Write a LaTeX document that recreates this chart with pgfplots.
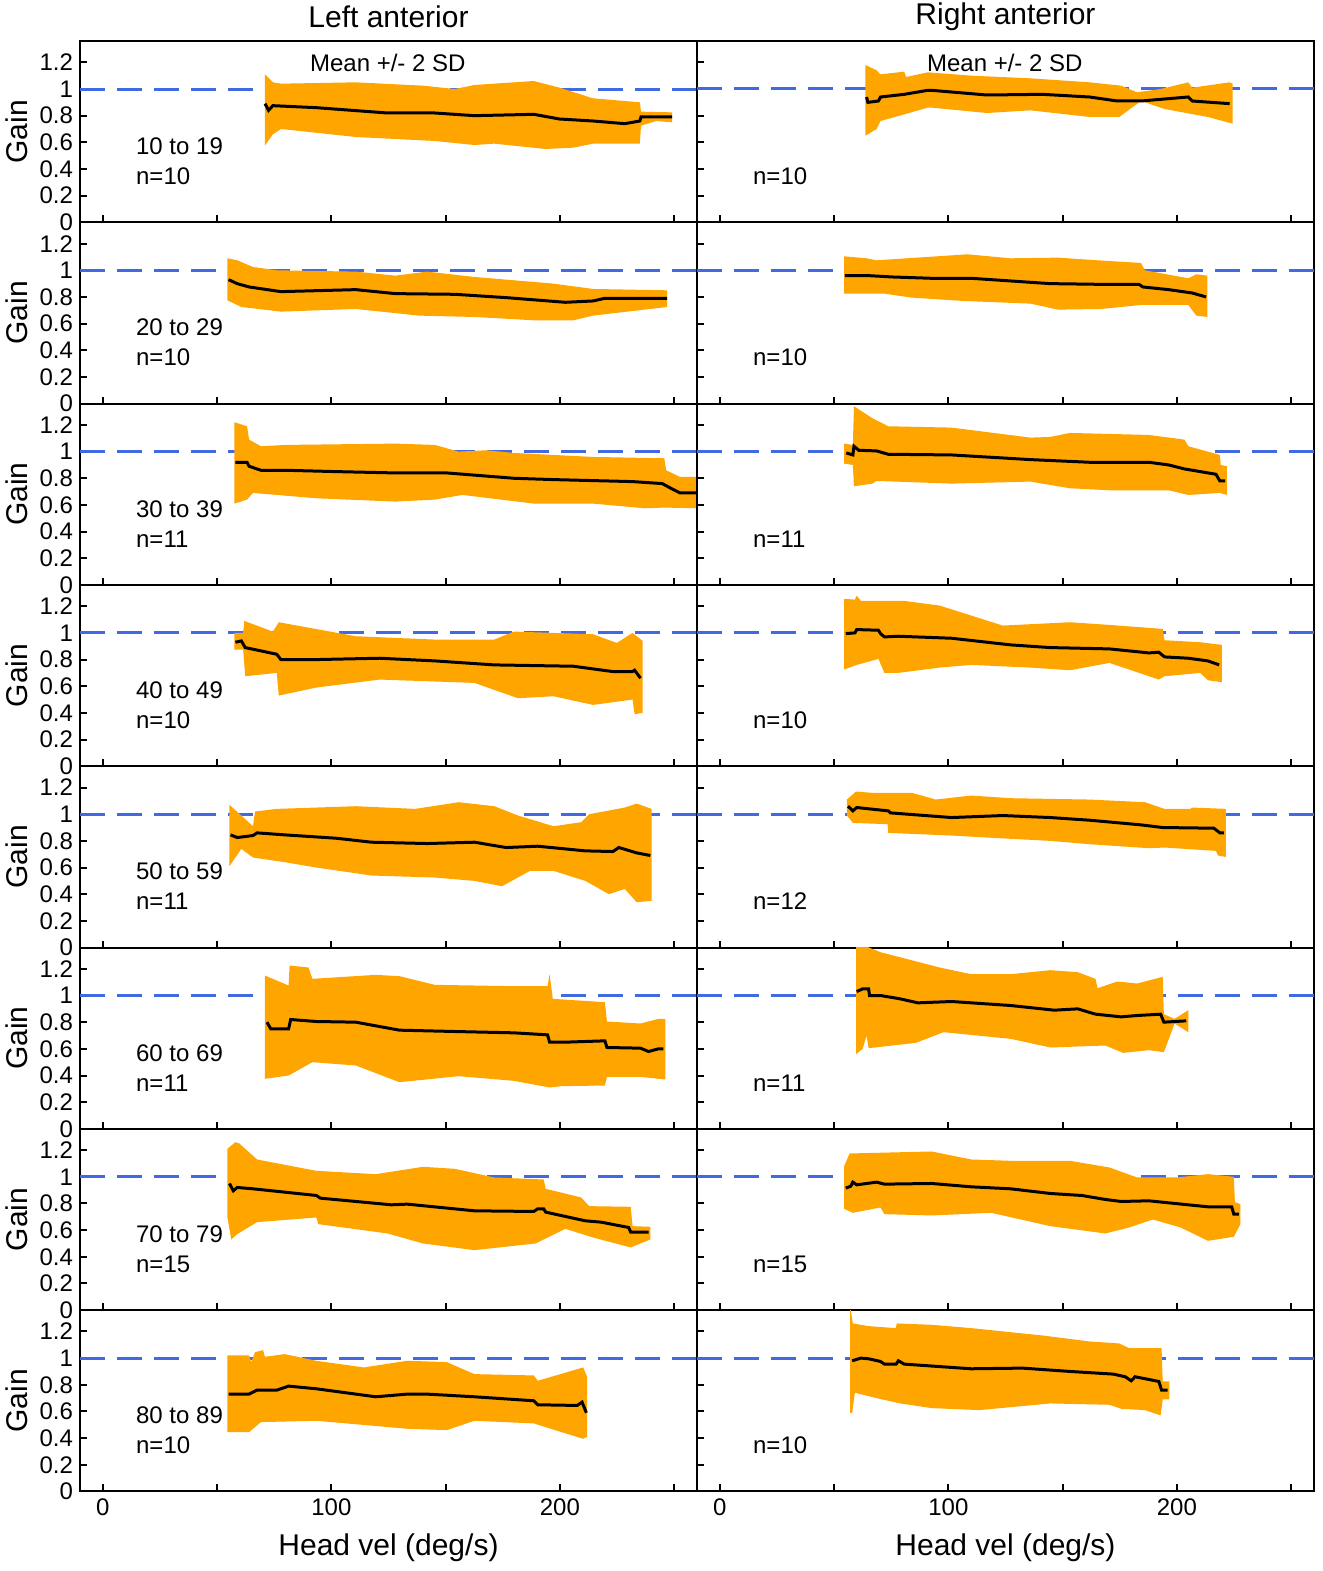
\documentclass[border=0pt]{standalone}
\usepackage{fontspec}
\setmainfont{Liberation Sans}
\usepackage{pgfplots}
\pgfplotsset{compat=1.18}
\usepgfplotslibrary{groupplots}
\definecolor{gorange}{RGB}{255,165,0}
\definecolor{gblue}{RGB}{65,105,225}
\newcommand\band[1]{\addplot[fill=gorange,draw=none] coordinates {#1};}
\newcommand\mline[1]{\addplot[black,line width=1.5pt] coordinates {#1};}
\newcommand\refline{\addplot[gblue,line width=1.5pt,dash pattern=on 12.5pt off 6pt] coordinates {(-10,1)(260,1)};}
\newcommand\labA[1]{\node[anchor=west,inner sep=0pt,font=\fontsize{12}{14}\selectfont] at (axis cs:14.4,0.57) {#1};}
\newcommand\labB[1]{\node[anchor=west,inner sep=0pt,font=\fontsize{12}{14}\selectfont] at (axis cs:14.4,0.345) {#1};}
\newcommand\msd{\node[anchor=center,inner sep=0pt,font=\fontsize{12}{14}\selectfont] at (axis cs:124.7,1.195) {Mean +/- 2 SD};}
\newcommand\ttl[1]{\node[anchor=center,inner sep=0pt,font=\fontsize{15}{18}\selectfont] at (axis description cs:0.5,1.135) {#1};}
\begin{document}
\begin{tikzpicture}
\begin{groupplot}[
  group style={group size=2 by 8, horizontal sep=0pt, vertical sep=0pt,
    xticklabels at=edge bottom, yticklabels at=edge left},
  scale only axis, width=308.5pt, height=90.65pt,
  xmin=-10, xmax=260, ymin=0, ymax=1.36,
  xtick={0,100,200}, minor xtick={50,150,250},
  ytick={0,0.2,0.4,0.6,0.8,1,1.2},
  tick align=inside, tick pos=left,
  major tick length=3.5pt, minor tick length=3.5pt,
  axis line style={line width=1pt},
  tick style={black,line width=1pt},
  tick label style={font=\fontsize{12}{14}\selectfont},
  /pgf/number format/assume math mode=true,
  clip mode=individual,
  every axis y label/.style={at={(axis description cs:-0.102,0.5)}, rotate=90, anchor=center, font=\fontsize{15}{18}\selectfont},
  every axis x label/.style={at={(axis description cs:0.5,-0.309)}, anchor=center, font=\fontsize{15}{18}\selectfont},
]
% ---------- row 1
\nextgroupplot[ylabel={Gain}]
\coordinate (TL) at (rel axis cs:0,1);
\refline
\band{(70.9,1.11)(74.4,1.05)(78,1.04)(110.7,1.05)(140.1,1.025)(154,1.0)(162.6,1.03)(188.6,1.06)(199.8,1.01)(214.5,0.93)(228.4,0.91)(235,0.90)(235.5,0.83)(249.1,0.825)(249.1,0.75)(242.2,0.76)(235.5,0.725)(235,0.59)(214.5,0.59)(205.9,0.56)(193.8,0.55)(171.3,0.59)(162.6,0.58)(145.3,0.61)(110.7,0.64)(78,0.70)(74.4,0.66)(70.9,0.575)}
\mline{(71,0.89)(72.5,0.84)(74.4,0.875)(93.4,0.86)(124.6,0.82)(145.3,0.82)(162.6,0.80)(188.6,0.81)(199.8,0.775)(214.5,0.76)(228.4,0.74)(235,0.76)(235.5,0.79)(249.1,0.79)}
\msd \labA{10 to 19} \labB{n=10} \ttl{Left anterior}
\nextgroupplot
\refline
\band{(63.7,1.18)(68.6,1.14)(70.3,1.11)(80.7,1.13)(81.5,1.09)(91,1.125)(110,1.10)(135.9,1.08)(161.8,1.05)(175.6,1.025)(182.6,0.975)(192.9,1.0)(205,1.05)(206.7,1.01)(223.1,1.05)(224.4,1.04)(224.4,0.74)(213.6,0.79)(194.6,0.85)(184.3,0.91)(174.8,0.79)(161.8,0.79)(135.9,0.84)(116.9,0.82)(92.7,0.86)(91,0.86)(80.7,0.81)(70.3,0.76)(68.6,0.70)(63.7,0.65)}
\mline{(64.2,0.94)(64.8,0.90)(69.4,0.91)(70.3,0.94)(80.7,0.96)(91,0.99)(92.7,0.99)(116.9,0.955)(141.1,0.96)(161.8,0.94)(173.9,0.91)(184.3,0.91)(194.6,0.925)(205,0.94)(206.7,0.91)(223.1,0.89)}
\msd \labB{n=10} \ttl{Right anterior}
% ---------- row 2
\nextgroupplot[ylabel={Gain}]
\refline
\band{(54.5,1.09)(58.8,1.075)(65.7,1.025)(76.1,1.0)(110.7,0.99)(128,0.96)(141.9,0.99)(162.6,0.95)(197.2,0.90)(214.5,0.86)(246.9,0.85)(246.9,0.725)(214.5,0.66)(205.9,0.625)(188.6,0.625)(162.6,0.65)(138.4,0.66)(110.7,0.71)(77.9,0.69)(60.6,0.725)(54.5,0.775)}
\mline{(55,0.93)(58.8,0.90)(64,0.875)(77.9,0.84)(110.7,0.855)(128,0.825)(154,0.82)(176.5,0.795)(202.4,0.76)(214.5,0.77)(219.7,0.79)(246.9,0.79)}
\labA{20 to 29} \labB{n=10}
\nextgroupplot
\refline
\band{(54.4,1.105)(64.2,1.09)(68.6,1.075)(108.3,1.12)(127.3,1.09)(148,1.095)(165.3,1.075)(184.3,1.055)(186,1.0)(205,0.94)(208.5,0.97)(213.3,0.96)(213.3,0.65)(208.5,0.66)(205,0.74)(184.3,0.74)(167,0.71)(148,0.705)(135.9,0.75)(106.6,0.77)(84.1,0.795)(72,0.825)(54.4,0.825)}
\mline{(54.7,0.96)(65.1,0.96)(75.5,0.95)(92.7,0.94)(110,0.94)(127.3,0.92)(144.6,0.90)(165.3,0.895)(183.4,0.895)(185.1,0.875)(196.4,0.855)(206.7,0.83)(212.8,0.80)}
\labB{n=10}
% ---------- row 3
\nextgroupplot[ylabel={Gain}]
\refline
\band{(57.6,1.22)(63.1,1.19)(64,1.09)(69.2,1.04)(79.6,1.05)(128,1.06)(145.3,1.05)(155.7,1.0)(167.8,1.01)(179.9,0.99)(214.5,0.96)(245.7,0.95)(246.5,0.86)(252.6,0.81)(259.5,0.81)(259.5,0.575)(245.7,0.58)(237,0.575)(214.5,0.61)(188.6,0.61)(157.4,0.675)(145.3,0.64)(128,0.625)(93.4,0.65)(65.7,0.69)(63.1,0.64)(57.6,0.61)}
\mline{(58,0.92)(63.1,0.92)(64,0.89)(69.2,0.86)(79.6,0.86)(102,0.85)(128,0.84)(150.5,0.84)(179.9,0.80)(197.2,0.79)(231.8,0.775)(244.8,0.76)(249.1,0.72)(252.6,0.69)(259.5,0.69)}
\labA{30 to 39} \labB{n=11}
\nextgroupplot
\refline
\band{(54.4,1.06)(58.2,1.05)(58.7,1.34)(66.8,1.25)(73.7,1.19)(101.4,1.18)(135.9,1.105)(144.6,1.11)(153.2,1.14)(187.7,1.125)(203.3,1.09)(205,1.04)(218.8,0.975)(219.2,0.90)(221.9,0.89)(221.9,0.675)(218.8,0.69)(205,0.675)(196.4,0.71)(170.5,0.71)(153.2,0.725)(135.9,0.775)(101.4,0.76)(68.6,0.78)(66.8,0.76)(58.7,0.74)(58.2,0.90)(54.4,0.91)}
\mline{(55.3,0.99)(58.2,0.975)(58.7,1.04)(60.8,1.01)(68.6,1.005)(73.7,0.98)(101.4,0.975)(135.9,0.94)(161.8,0.92)(187.7,0.92)(196.4,0.90)(203.3,0.87)(217.1,0.83)(218.8,0.78)(221.1,0.78)}
\labB{n=11}
% ---------- row 4
\nextgroupplot[ylabel={Gain}]
\refline
\band{(57.6,1.0)(61.4,1.0)(61.9,1.09)(74.4,1.01)(77,1.08)(110.7,0.975)(145.3,0.95)(171.3,0.95)(179.9,1.01)(197.2,1.0)(214.5,0.99)(224.9,0.925)(231.8,1.0)(236.2,0.94)(236.2,0.40)(232.7,0.39)(231.8,0.50)(214.5,0.46)(197.2,0.525)(181.7,0.51)(162.6,0.625)(121.1,0.65)(93.4,0.59)(77,0.53)(76.1,0.70)(62.3,0.675)(61.4,0.875)(57.6,0.875)}
\mline{(58,0.93)(60.6,0.94)(62.3,0.89)(76.1,0.84)(77.9,0.80)(93.4,0.80)(121.1,0.81)(145.3,0.79)(171.3,0.76)(205.9,0.75)(214.5,0.73)(223.2,0.71)(231.8,0.71)(232.7,0.72)(235.3,0.66)}
\labA{40 to 49} \labB{n=10}
\nextgroupplot
\refline
\band{(54.4,1.255)(59.1,1.25)(59.9,1.28)(61.7,1.24)(80.7,1.24)(96.2,1.205)(123.8,1.055)(153.2,1.08)(170.5,1.06)(193.8,1.03)(194.6,0.945)(210.2,0.93)(219.7,0.91)(219.7,0.63)(213.6,0.645)(210.2,0.70)(194.6,0.675)(192.1,0.65)(170.5,0.775)(153.2,0.72)(135.9,0.74)(110,0.76)(96.2,0.74)(78.1,0.70)(72,0.70)(69.4,0.805)(59.9,0.76)(54.4,0.725)}
\mline{(55.1,0.995)(59.1,1.0)(59.9,1.025)(69.4,1.02)(70.3,0.995)(72,0.97)(78.1,0.975)(101.4,0.96)(127.3,0.91)(144.6,0.89)(170.5,0.88)(187.7,0.85)(192.1,0.855)(194.6,0.82)(205,0.81)(213.6,0.79)(218.5,0.76)}
\labB{n=10}
% ---------- row 5
\nextgroupplot[ylabel={Gain}]
\refline
\band{(55.4,1.07)(60.6,0.99)(65.7,0.91)(66.6,1.02)(76.1,1.04)(110.7,1.06)(136.7,1.04)(155.7,1.09)(171.3,1.06)(181.7,0.99)(197.2,0.91)(209.3,0.94)(212.8,1.0)(228.4,1.05)(233.6,1.08)(240.1,1.04)(240.1,0.35)(233.6,0.34)(228.4,0.44)(221.5,0.40)(211.1,0.50)(197.2,0.575)(186.9,0.575)(174.7,0.46)(162.6,0.50)(145.3,0.525)(117.6,0.54)(93.4,0.60)(79.6,0.64)(65.7,0.675)(60.6,0.74)(55.4,0.61)}
\mline{(55.9,0.845)(58.8,0.825)(65.7,0.84)(67.5,0.86)(79.6,0.845)(102,0.82)(117.6,0.79)(141.9,0.78)(162.6,0.79)(176.5,0.75)(190.3,0.76)(211.1,0.725)(223.2,0.72)(225.8,0.75)(233.6,0.71)(239.6,0.69)}
\labA{50 to 59} \labB{n=11}
\nextgroupplot
\refline
\band{(55.6,1.11)(59.6,1.17)(66.8,1.16)(84.1,1.16)(94.5,1.11)(110,1.14)(127.3,1.12)(161.8,1.11)(186,1.09)(194.6,1.04)(205.9,1.04)(206.7,1.05)(221.4,1.04)(221.4,0.68)(218,0.69)(217.1,0.725)(194.6,0.75)(187.7,0.745)(161.8,0.775)(144.6,0.80)(116.9,0.825)(101.4,0.84)(73.7,0.86)(73.4,0.925)(58.2,0.935)(55.6,0.99)}
\mline{(56.1,1.06)(58.2,1.025)(59.9,1.05)(73.7,1.025)(74.6,1.01)(101.4,0.975)(123.8,0.99)(144.6,0.975)(161.8,0.955)(184.3,0.92)(193.8,0.90)(216.2,0.895)(218.8,0.86)(220.6,0.86)}
\labB{n=12}
% ---------- row 6
\nextgroupplot[ylabel={Gain}]
\refline
\band{(70.9,1.15)(81.3,1.075)(81.7,1.225)(90,1.21)(91.7,1.125)(119.4,1.155)(129.8,1.145)(145.3,1.08)(179.9,1.07)(194.6,1.07)(195.5,1.16)(196.9,0.975)(219.7,0.95)(220.6,0.805)(235.3,0.79)(243.1,0.825)(246.2,0.825)(246.2,0.37)(235.3,0.39)(220.6,0.39)(219.7,0.325)(200.7,0.32)(195.5,0.31)(179.9,0.36)(155.7,0.395)(129.8,0.35)(110.7,0.475)(91.7,0.50)(81.3,0.40)(70.9,0.375)}
\mline{(71.8,0.80)(73.5,0.75)(81.3,0.75)(82.2,0.82)(93.4,0.805)(110.7,0.80)(129.8,0.74)(154,0.73)(179.9,0.72)(194.6,0.705)(195.5,0.65)(202.4,0.65)(219.7,0.66)(220.6,0.61)(235.3,0.605)(238.8,0.58)(243.1,0.60)(245.3,0.60)}
\labA{60 to 69} \labB{n=11}
\nextgroupplot
\refline
\band{(59.6,1.40)(70.3,1.325)(96.2,1.21)(110,1.16)(127.3,1.16)(144.6,1.19)(156.6,1.175)(164.4,1.125)(165.3,1.055)(173.9,1.105)(182.6,1.09)(193.8,1.14)(194.3,0.86)(199,0.825)(205,0.89)(205,0.725)(199,0.79)(194.3,0.575)(187.7,0.59)(176.5,0.57)(168.7,0.625)(144.6,0.61)(127.3,0.675)(97.9,0.725)(85.8,0.645)(65.1,0.605)(64.2,0.70)(62.5,0.60)(59.6,0.56)}
\mline{(59.9,1.03)(62.5,1.05)(65.1,1.05)(65.5,1.0)(70.3,1.0)(78.9,0.975)(86.7,0.945)(101.4,0.955)(127.3,0.925)(146.3,0.89)(156.6,0.90)(164.4,0.86)(175.6,0.84)(182.6,0.85)(192.9,0.86)(194.3,0.80)(204.1,0.81)}
\labB{n=11}
% ---------- row 7
\nextgroupplot[ylabel={Gain}]
\refline
\band{(54.5,1.21)(58,1.26)(59.7,1.25)(67.5,1.13)(93.4,1.045)(119.4,1.02)(140.1,1.075)(154,1.06)(171.3,0.995)(192.9,0.98)(193.8,0.91)(209.3,0.845)(212.8,0.78)(231,0.775)(231.8,0.63)(239.6,0.625)(239.6,0.53)(231,0.47)(214.5,0.545)(202.4,0.61)(189.4,0.50)(162.6,0.45)(140.1,0.50)(124.6,0.575)(94.3,0.645)(93.4,0.695)(67.5,0.66)(58.8,0.57)(56.2,0.53)(54.5,0.695)}
\mline{(55.4,0.95)(57.1,0.895)(58.8,0.92)(65.7,0.91)(93.4,0.86)(95.2,0.84)(126.3,0.79)(133.2,0.795)(162.6,0.745)(188.6,0.74)(190.3,0.76)(192.9,0.76)(193.8,0.735)(211.1,0.67)(218,0.66)(230.1,0.62)(231,0.585)(238.8,0.585)}
\labA{70 to 79} \labB{n=15}
\nextgroupplot
\refline
\band{(54.4,1.08)(56.8,1.175)(68.6,1.18)(92.7,1.19)(110,1.13)(127.3,1.12)(153.2,1.12)(170.5,1.07)(182.6,0.995)(199.8,0.995)(213.6,1.02)(224.9,1.0)(225.4,0.81)(227.8,0.795)(227.8,0.645)(224.9,0.55)(213.6,0.52)(201.6,0.62)(189.5,0.68)(179.1,0.62)(168.7,0.575)(144.6,0.63)(118.7,0.73)(92.7,0.71)(72,0.72)(70.3,0.77)(58.2,0.73)(54.4,0.76)}
\mline{(55.1,0.915)(57.3,0.93)(58.2,0.96)(59.9,0.94)(68.6,0.96)(72,0.945)(92.7,0.95)(110,0.925)(127.3,0.91)(144.6,0.875)(158.4,0.86)(168.7,0.83)(175.6,0.815)(187.7,0.82)(213.6,0.775)(224,0.775)(224.9,0.72)(227.1,0.72)}
\labB{n=15}
% ---------- row 8
\nextgroupplot[ylabel={Gain}, xlabel={Head vel (deg/s)}]
\refline
\band{(54.5,1.02)(64,1.02)(64.9,0.97)(66.6,1.045)(70.1,1.06)(70.9,1.01)(79.6,1.03)(93.4,0.98)(114.2,0.93)(133.2,0.98)(150.5,0.97)(162.6,0.88)(188.6,0.87)(190.3,0.83)(210.2,0.93)(211.9,0.86)(211.9,0.41)(210.2,0.395)(200.7,0.445)(188.6,0.51)(162.6,0.53)(150.5,0.46)(133.2,0.47)(93.4,0.53)(69.2,0.52)(64,0.445)(54.5,0.445)}
\mline{(55,0.73)(64,0.73)(67.5,0.76)(76.1,0.76)(81.3,0.79)(93.4,0.77)(119.4,0.71)(133.2,0.73)(141.9,0.73)(162.6,0.71)(188.6,0.68)(190.3,0.65)(207.6,0.645)(209.7,0.67)(211.6,0.59)}
\labA{80 to 89} \labB{n=10}
\nextgroupplot[xlabel={Head vel (deg/s)}]
\refline
\band{(57,1.40)(58.2,1.26)(65.1,1.24)(76.9,1.225)(77.5,1.26)(92.7,1.25)(110,1.225)(141.1,1.17)(161.8,1.125)(174.8,1.11)(179.1,1.075)(193.3,1.075)(193.8,0.825)(196.7,0.825)(196.7,0.69)(193.8,0.69)(192.9,0.57)(186,0.61)(175.6,0.62)(170.5,0.65)(144.6,0.66)(113.5,0.61)(92.7,0.625)(78.9,0.66)(68.6,0.70)(59.1,0.74)(57.9,0.59)(57,0.59)}
\mline{(57.9,0.98)(61.7,1.0)(65.1,0.995)(70.3,0.975)(72,0.955)(77.2,0.955)(78.1,0.98)(80.7,0.955)(110,0.92)(132.5,0.925)(153.2,0.90)(172.2,0.88)(177.4,0.86)(180,0.83)(181.7,0.86)(187.7,0.84)(192.1,0.825)(193.3,0.76)(196,0.76)}
\labB{n=10}
\end{groupplot}
\pgfresetboundingbox
\path[use as bounding box] ([shift={(-40pt,20.5pt)}]TL) rectangle ++(661.5pt,-785.5pt);
\end{tikzpicture}
\end{document}
